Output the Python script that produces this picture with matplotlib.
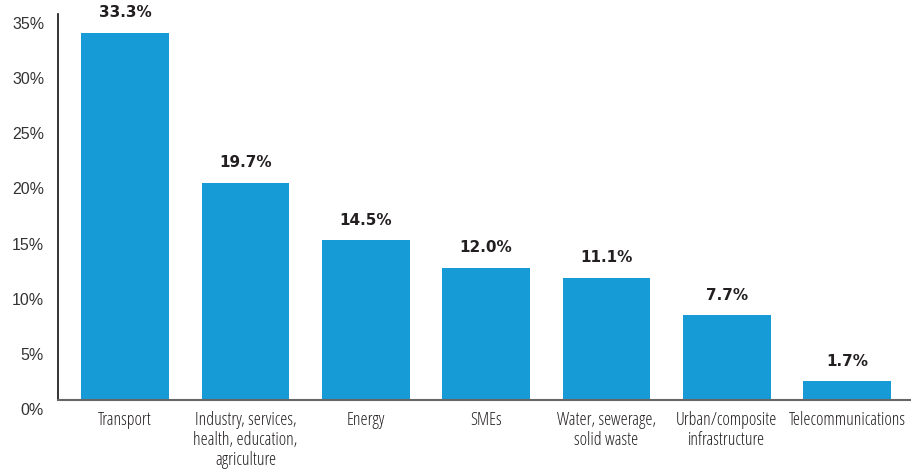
import matplotlib.pyplot as plt
from matplotlib.transforms import ScaledTranslation

categories = ['Transport', 'Industry, services,\nhealth, education,\nagriculture', 'Energy',
              'SMEs', 'Water, sewerage,\nsolid waste', 'Urban/composite\ninfrastructure',
              'Telecommunications']
shares = [33.3, 19.7, 14.5, 12.0, 11.1, 7.7, 1.7]
yticks = [0, 5, 10, 15, 20, 25, 30, 35]

bar_color = '#179bd7'
text_color = '#231f20'

fig = plt.figure(figsize=(9.11, 4.72), dpi=100)
ax = fig.add_axes([58 / 911, 72 / 472, 1 - 58 / 911, 386 / 472])

x = range(len(categories))
bars = ax.bar(x, shares, width=0.73, color=bar_color)

for b, v in zip(bars, shares):
    ax.annotate(f'{v:.1f}%', (b.get_x() + b.get_width() / 2, b.get_height()),
                xytext=(0, 9), textcoords='offset points', ha='center', va='bottom',
                fontsize=11, fontweight='bold', color=text_color, family='DejaVu Sans')

ax.set_xlim(-0.558, 6.53)
ax.set_ylim(0, 35)
ax.set_xticks(list(x))
ax.set_xticklabels(categories, fontsize=12.8, color=text_color, family='Open Sans',
                   fontstretch='condensed', fontweight='medium', linespacing=1.15)
ax.set_yticks(yticks)
ax.set_yticklabels([f'{t}%' for t in yticks], fontsize=11.5, color='#333333',
                   family='Liberation Sans')
ax.tick_params(axis='both', length=0)
ax.tick_params(axis='y', pad=10)
ax.tick_params(axis='x', pad=8)

# tick labels sit a little below their gridline positions in the original
shift = ScaledTranslation(0, -0.09, fig.dpi_scale_trans)
for lab in ax.get_yticklabels():
    lab.set_transform(lab.get_transform() + shift)

for s in ['top', 'right']:
    ax.spines[s].set_visible(False)
ax.spines['left'].set_color('#111111')
ax.spines['left'].set_linewidth(1.2)
ax.spines['bottom'].set_color('#666666')
ax.spines['bottom'].set_linewidth(1.5)

fig.savefig('out.png', dpi=100)
